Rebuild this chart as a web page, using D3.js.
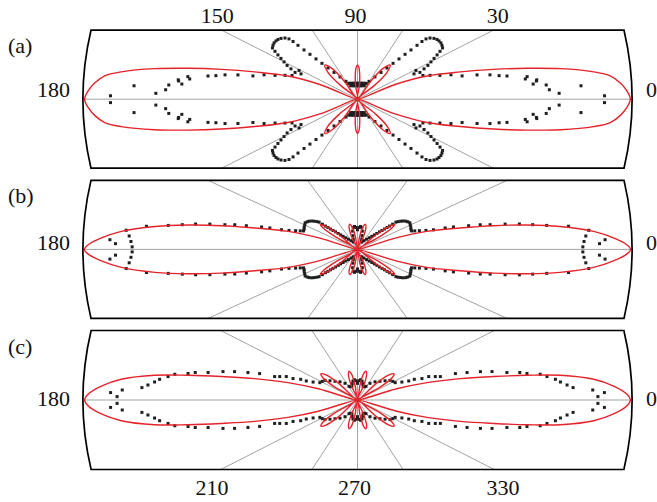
<!DOCTYPE html>
<html>
<head>
<meta charset="utf-8">
<script src="https://cdn.jsdelivr.net/npm/d3@7"></script>
<style>
  body { margin: 0; background: #fff; }
  svg { display: block; }
  text { font-family: "Liberation Serif", "Times New Roman", serif; font-size: 22px; fill: #111; }
</style>
</head>
<body>
<div id="chart"></div>
<script>
// ---- data (first quadrant, angle in degrees / normalised magnitude) ----
const panelNames = ["(a)", "(b)", "(c)"];
const topTickAngles = [150, 90, 30];
const topTickLabels = ["150", "90", "30"];
const bottomTickAngles = [210, 270, 330];
const bottomTickLabels = ["210", "270", "330"];
const sideTickLabels = ["180", "0"];
const gridAngles = [0, 30, 60, 90, 120, 150, 180, 210, 240, 270, 300, 330];

// theory (red)
const redThetaA = [0, 2, 4, 6, 7.5, 9.7, 11.7, 14, 16.8, 20.8, 24, 27, 40, 43, 46, 50, 54, 57, 60, 80, 83, 86, 88, 90];
const redRA     = [0.994, 0.982, 0.96, 0.926, 0.868, 0.75, 0.631, 0.511, 0.391, 0.271, 0.15, 0, 0, 0.09, 0.155, 0.185, 0.155, 0.09, 0, 0, 0.06, 0.11, 0.133, 0.142];

const redThetaB = [0, 1.25, 3.2, 5.45, 8.07, 10.2, 12.3, 14.6, 18, 20.5, 23, 33, 35.5, 38, 40, 42, 44.5, 47, 66, 69.5, 73, 76, 79, 82.5, 86, 90];
const redRB     = [0.995, 0.981, 0.934, 0.864, 0.745, 0.627, 0.507, 0.386, 0.265, 0.15, 0, 0, 0.1, 0.16, 0.177, 0.16, 0.1, 0, 0, 0.06, 0.105, 0.118, 0.105, 0.06, 0, 0];

const redThetaC = [0, 1.4, 3.55, 5.7, 7.9, 9.4, 11.05, 13.3, 15.9, 18, 20.5, 30, 33, 36, 39, 42, 45, 48, 66, 69.5, 72.5, 75.5, 78.5, 81.5, 85, 90];
const redRC     = [0.994, 0.982, 0.935, 0.865, 0.746, 0.626, 0.506, 0.385, 0.263, 0.15, 0, 0, 0.1, 0.155, 0.172, 0.155, 0.1, 0, 0, 0.065, 0.11, 0.123, 0.11, 0.065, 0, 0];

// measurement (black dots)
const dotThetaA = [0.9, 1.9, 3.2, 3.9, 4.9, 5.6, 6.6, 7.0, 7.8, 8.6, 10.0, 10.7, 11.8, 13.0, 14.2, 16.5, 18.2, 20.5, 22.4, 26.0,
                   27.0, 29.2, 27.4, 28.6, 30.0, 31.2, 32.3, 33.4, 34.4, 35.9, 37.5, 39.1, 40.5, 42.1, 43.8, 45.0, 45.5, 45.8, 46.3, 47.0,
                   47.8, 48.9, 50.3, 52.3, 55.4, 60.4,
                   90, 86, 82, 78, 74, 70, 66, 88, 84, 80, 76, 72, 68, 64];
const dotRA     = [0.90, 0.735, 0.70, 0.816, 0.69, 0.643, 0.656, 0.658, 0.617, 0.625, 0.553, 0.525, 0.493, 0.447, 0.393, 0.355, 0.316, 0.282, 0.258, 0.253,
                   0.231, 0.244, 0.273, 0.292, 0.309, 0.326, 0.343, 0.36, 0.3755, 0.38, 0.383, 0.3826, 0.381, 0.3755, 0.366, 0.353, 0.335, 0.311, 0.282, 0.254,
                   0.225, 0.197, 0.168, 0.14, 0.112, 0.085,
                   0.056, 0.056, 0.057, 0.057, 0.058, 0.060, 0.061, 0.066, 0.066, 0.067, 0.068, 0.069, 0.071, 0.073];

const dotThetaB = [0.8, 1.7, 2.5, 2.8, 4.2, 5.9, 7.8, 9.0, 10.0, 11.1, 12.1, 13.1, 14.1, 14.9, 16.3, 17.0, 17.9, 19.1, 20.7, 22.0,
                   23.1, 25.3, 27.5, 30.0, 32.5, 34.5, 36.1, 37.8, 39.2, 40.5, 41.6, 41.9, 42.3, 42.8, 43.3, 44.0, 45.0, 45.8, 47.0, 48.7,
                   51.0, 54.5, 59.0, 65.0, 68, 72, 75, 78, 81, 84, 87, 90];
const dotRB     = [0.821, 0.882, 0.826, 0.903, 0.834, 0.847, 0.776, 0.698, 0.648, 0.601, 0.55, 0.496, 0.461, 0.419, 0.364, 0.334, 0.291, 0.264, 0.241, 0.225,
                   0.214, 0.215, 0.219, 0.222, 0.226, 0.222, 0.218, 0.211, 0.203, 0.195, 0.187, 0.172, 0.158, 0.147, 0.1355, 0.124, 0.113, 0.101, 0.09, 0.079,
                   0.068, 0.057, 0.046, 0.037, 0.04, 0.05, 0.065, 0.085, 0.1, 0.105, 0.1, 0.09];

const dotThetaC = [0.92, 1.95, 2.77, 3.74, 4.65, 5.76, 6.78, 8.0, 9.1, 10.1, 10.9, 11.8, 13.5, 14.7, 15.9, 17.05, 17.8, 18.9, 20.5, 20.7,
                   22.5, 22.9, 24.7, 27.6, 31, 34.5, 38.4, 43.4, 49.7, 56.6, 61.3, 66, 70, 74, 78, 82, 86, 90];
const dotRC     = [0.876, 0.90, 0.858, 0.787, 0.766, 0.743, 0.726, 0.697, 0.674, 0.627, 0.602, 0.556, 0.504, 0.463, 0.415, 0.373, 0.317, 0.2995, 0.277, 0.251,
                   0.224, 0.2025, 0.178, 0.155, 0.15, 0.1437, 0.128, 0.1127, 0.0987, 0.0827, 0.0646, 0.06, 0.06, 0.07, 0.08, 0.085, 0.08, 0.07];

const redTheta = [redThetaA, redThetaB, redThetaC];
const redR = [redRA, redRB, redRC];
const dotTheta = [dotThetaA, dotThetaB, dotThetaC];
const dotR = [dotRA, dotRB, dotRC];

// ---- layout ----
const W = 657, H = 502;
const cx = 357.5, R = 274.5, frameRy = 288;
const layout = [
  { cy: 99.2,  half: 69,   k: 0.88, sideBase: 96.7 },
  { cy: 249.4, half: 69,   k: 0.80, sideBase: 250 },
  { cy: 400,   half: 69.5, k: 0.88, sideBase: 406 }
];

const svg = d3.select("#chart").append("svg")
  .attr("width", W).attr("height", H);

const rad = d => d * Math.PI / 180;

// four quadrants from the first one, in angular order
function fullTurn(th, r) {
  const q1 = th.map((t, i) => [t, r[i]]);
  const q2 = q1.slice().reverse().map(([t, v]) => [180 - t, v]);
  const q3 = q1.map(([t, v]) => [180 + t, v]);
  const q4 = q1.slice().reverse().map(([t, v]) => [360 - t, v]);
  return q1.concat(q2, q3, q4);
}

layout.forEach((p, i) => {
  const x = d3.scaleLinear().domain([-1, 1]).range([cx - R, cx + R]);
  const y = d3.scaleLinear().domain([-1, 1]).range([p.cy + R * p.k, p.cy - R * p.k]);
  const px = (t, r) => x(r * Math.cos(rad(t)));
  const py = (t, r) => y(r * Math.sin(rad(t)));

  const top = p.cy - p.half, bot = p.cy + p.half;
  const xt = R * Math.sqrt(1 - Math.pow(p.half / frameRy, 2));
  const framePath = `M${cx - xt},${top} L${cx + xt},${top} A${R},${frameRy} 0 0 1 ${cx + xt},${bot} ` +
                    `L${cx - xt},${bot} A${R},${frameRy} 0 0 1 ${cx - xt},${top} Z`;

  svg.append("clipPath").attr("id", "clip" + i)
    .append("path").attr("d", framePath);

  const g = svg.append("g");
  const inner = g.append("g").attr("clip-path", `url(#clip${i})`);

  // radial grid
  inner.selectAll("line.grid")
    .data(gridAngles)
    .enter().append("line")
    .attr("class", "grid")
    .attr("x1", cx).attr("y1", p.cy)
    .attr("x2", d => px(d, 1.4)).attr("y2", d => py(d, 1.4))
    .attr("stroke", "#a3a3a3").attr("stroke-width", 1);

  // measured dots
  const dots = fullTurn(dotTheta[i], dotR[i]);
  inner.selectAll("rect.dot")
    .data(dots)
    .enter().append("rect")
    .attr("class", "dot")
    .attr("x", d => px(d[0], d[1]) - 1.5)
    .attr("y", d => py(d[0], d[1]) - 1.5)
    .attr("width", 3).attr("height", 3)
    .attr("fill", "#1f1f1f");

  // theory curve
  let pts = fullTurn(redTheta[i], redR[i]).map(d => [px(d[0], d[1]), py(d[0], d[1])]);
  pts = pts.filter((d, j) => j === 0 || Math.hypot(d[0] - pts[j - 1][0], d[1] - pts[j - 1][1]) > 0.01);
  if (Math.hypot(pts[0][0] - pts[pts.length - 1][0], pts[0][1] - pts[pts.length - 1][1]) < 0.01) pts.pop();
  inner.append("path")
    .attr("d", d3.line().curve(d3.curveCatmullRomClosed.alpha(0.5))(pts))
    .attr("fill", "none")
    .attr("stroke", "#e5232b")
    .attr("stroke-width", 1.4);

  // frame
  g.append("path").attr("d", framePath)
    .attr("fill", "none").attr("stroke", "#000").attr("stroke-width", 1.7);

  // labels
  g.append("text").attr("x", 8).attr("y", top + 23).text(panelNames[i]);
  g.append("text").attr("x", 70).attr("y", p.sideBase).attr("text-anchor", "end").text(sideTickLabels[0]);
  g.append("text").attr("x", 646).attr("y", p.sideBase).text(sideTickLabels[1]);
});

// angle labels above the first and below the last panel
svg.selectAll("text.top")
  .data(topTickAngles)
  .enter().append("text")
  .attr("class", "top")
  .attr("x", d => cx + 162 * Math.cos(rad(d)) - (d === 90 ? 2 : 0))
  .attr("y", 23.3)
  .attr("text-anchor", "middle")
  .text((d, i) => topTickLabels[i]);

svg.selectAll("text.bottom")
  .data(bottomTickAngles)
  .enter().append("text")
  .attr("class", "bottom")
  .attr("x", d => cx + 168 * Math.cos(rad(d)) - (d === 270 ? 3 : 0))
  .attr("y", 495)
  .attr("text-anchor", "middle")
  .text((d, i) => bottomTickLabels[i]);
</script>
</body>
</html>
